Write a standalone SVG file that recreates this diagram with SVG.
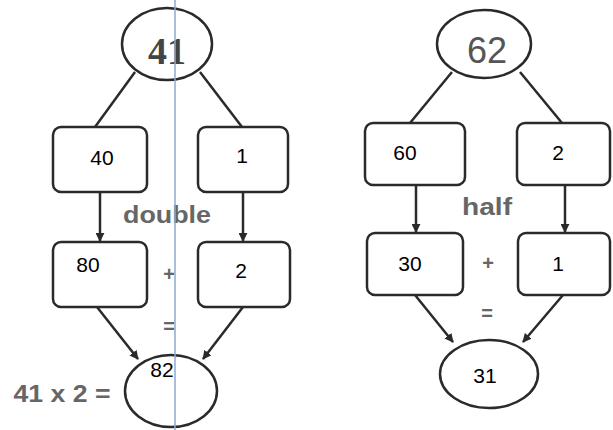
<svg xmlns="http://www.w3.org/2000/svg" width="613" height="430" viewBox="0 0 613 430">
<style>
.box{fill:#fff;stroke:#2a2a2a;stroke-width:2.5}
.ell{fill:#fff;stroke:#2a2a2a;stroke-width:2.5}
.ln{stroke:#2a2a2a;stroke-width:2.5;fill:none}
.arr{stroke:#2a2a2a;stroke-width:2.5;fill:none;marker-end:url(#ah)}
.num{font-family:"Liberation Sans",Arial,sans-serif;font-size:21px;fill:#000;text-anchor:middle}
.gray{font-family:"Liberation Sans",Arial,sans-serif;fill:#666;text-anchor:middle;font-weight:bold}
</style>
<defs>
<marker id="ah" viewBox="0 0 10 10" refX="9" refY="5" markerWidth="3.6" markerHeight="3.6" orient="auto" markerUnits="strokeWidth">
<path d="M0,0 L10,5 L0,10 z" fill="#2a2a2a"/>
</marker>
</defs>
<rect width="613" height="430" fill="#fff"/>
<g id="connectors">
<line class="ln" x1="135" y1="72" x2="95" y2="127"/>
<line class="ln" x1="200" y1="72" x2="242" y2="127"/>
<line class="arr" x1="100" y1="192" x2="100" y2="241"/>
<line class="arr" x1="243" y1="192" x2="243" y2="241"/>
<line class="arr" x1="97" y1="307" x2="138" y2="359"/>
<line class="arr" x1="243" y1="307" x2="203" y2="359"/>
<line class="ln" x1="452" y1="72" x2="410" y2="123"/>
<line class="ln" x1="520" y1="72" x2="562" y2="123"/>
<line class="arr" x1="416" y1="185" x2="416" y2="232"/>
<line class="arr" x1="565" y1="185" x2="565" y2="232"/>
<line class="arr" x1="415" y1="295" x2="453" y2="342"/>
<line class="arr" x1="563" y1="295" x2="523" y2="342"/>
</g>
<g id="n41"><ellipse class="ell" cx="167" cy="44" rx="45" ry="36"/><text x="167" y="64" font-family="Liberation Serif,serif" font-weight="bold" font-size="38" fill="#444" text-anchor="middle">41</text></g>
<g id="n40"><rect class="box" x="53" y="127" width="94" height="65" rx="8"/><text class="num" x="102" y="165">40</text></g>
<g id="n1a"><rect class="box" x="198" y="127" width="90" height="65" rx="8"/><text class="num" x="242" y="163">1</text></g>
<g id="n80"><rect class="box" x="53" y="242" width="94" height="65" rx="8"/><text class="num" x="88" y="272">80</text></g>
<g id="n2a"><rect class="box" x="198" y="242" width="92" height="65" rx="8"/><text class="num" x="241" y="278">2</text></g>
<g id="n82"><ellipse class="ell" cx="171" cy="391" rx="46" ry="36"/><text class="num" x="162" y="377">82</text></g>
<text class="gray" x="167" y="223" font-size="24" textLength="88" lengthAdjust="spacingAndGlyphs">double</text>
<text class="gray" x="169" y="281" font-size="20">+</text>
<text class="gray" x="169" y="333" font-size="20" fill="#888">=</text>
<text class="gray" x="62" y="402" font-size="23" textLength="97" lengthAdjust="spacingAndGlyphs" fill="#555">41 x 2 =</text>
<g id="n62"><ellipse class="ell" cx="484" cy="44" rx="47" ry="34"/><text x="487" y="63" font-family="Liberation Sans,Arial,sans-serif" font-size="36" fill="#555" text-anchor="middle">62</text></g>
<g id="n60"><rect class="box" x="365" y="123" width="100" height="62" rx="8"/><text class="num" x="405" y="160">60</text></g>
<g id="n2b"><rect class="box" x="517" y="123" width="93" height="62" rx="8"/><text class="num" x="558" y="160">2</text></g>
<g id="n30"><rect class="box" x="367" y="233" width="96" height="62" rx="8"/><text class="num" x="410" y="271">30</text></g>
<g id="n1b"><rect class="box" x="518" y="233" width="92" height="62" rx="8"/><text class="num" x="558" y="271">1</text></g>
<g id="n31"><ellipse class="ell" cx="489" cy="374" rx="49" ry="34"/><text class="num" x="485" y="383">31</text></g>
<text class="gray" x="487" y="215" font-size="24" textLength="50" lengthAdjust="spacingAndGlyphs">half</text>
<text class="gray" x="488" y="270" font-size="20">+</text>
<text class="gray" x="487" y="320" font-size="20" fill="#999">=</text>
<line x1="175" y1="0" x2="175" y2="430" stroke="#8eaacc" stroke-width="1.5"/>
</svg>
